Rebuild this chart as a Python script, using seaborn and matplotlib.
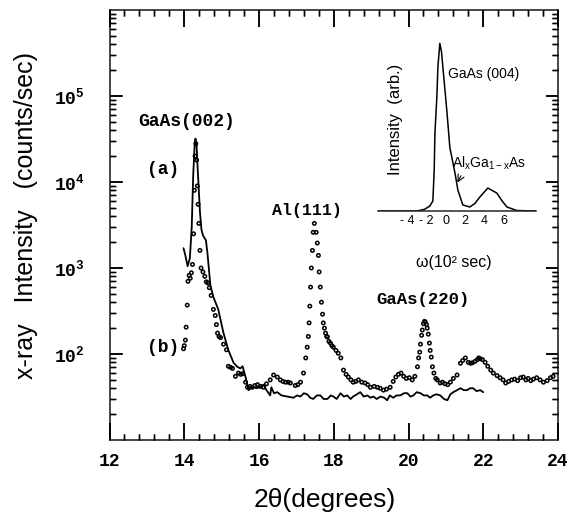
import numpy as np
import pandas as pd
import matplotlib
matplotlib.use("Agg")
import matplotlib.pyplot as plt
from matplotlib.ticker import MultipleLocator, LogLocator, NullFormatter, FixedLocator
import seaborn as sns

# ---------------- data ----------------
# curve (a): solid line
a_two_theta = [13.98, 14.03, 14.09, 14.15, 14.20, 14.24, 14.28, 14.30, 14.33, 14.36,
               14.39, 14.42, 14.46, 14.50, 14.55, 14.58, 14.62, 14.65, 14.70, 14.78,
               14.91, 15.05, 15.18, 15.32, 15.42, 15.50, 15.56, 15.64, 15.72, 15.78,
               15.85, 15.95, 16.05, 16.12, 16.20, 16.30, 16.33, 16.40, 16.49, 16.60,
               16.76, 16.92, 17.02,
               17.11, 17.20, 17.29, 17.37, 17.45, 17.55, 17.64, 17.73, 17.83, 17.92,
               17.99, 18.08, 18.18, 18.27, 18.36, 18.45, 18.52, 18.62, 18.71, 18.80,
               18.90, 18.98, 19.06, 19.15, 19.25, 19.35, 19.43, 19.50, 19.59, 19.68,
               19.78, 19.88, 19.97, 20.05, 20.13, 20.22, 20.32, 20.41, 20.50, 20.58,
               20.66, 20.75, 20.85, 20.95, 21.04, 21.12, 21.20, 21.30, 21.39, 21.48,
               21.57, 21.65, 21.73, 21.82, 21.92, 22.00]
a_intensity = [1700, 1400, 1050, 1300, 3000, 12000, 28000, 32000, 27000, 14000,
               8000, 4500, 2800, 2400, 2200, 2100, 1500, 1080, 620, 460,
               330, 175, 111, 79, 71, 68, 72, 54, 38, 40,
               41, 40, 42, 44, 38, 33, 41, 35, 36, 33,
               32, 31, 33,
               32, 35, 34, 31, 30, 33, 33, 30, 30, 33,
               32, 30, 35, 32, 33, 30, 32, 34, 36, 32,
               33, 31, 32, 30, 32, 31, 29, 33, 31, 33,
               33, 35, 35, 32, 33, 36, 35, 33, 33, 31,
               33, 34, 33, 30, 29, 34, 36, 38, 40, 38,
               38, 40, 40, 37, 38, 36]

# curve (b): open-circle points
b_two_theta = [13.98, 14.00, 14.03, 14.05, 14.08, 14.10, 14.13, 14.16, 14.19, 14.22,
               14.25, 14.27, 14.29, 14.31, 14.33, 14.35, 14.37, 14.39, 14.42, 14.45,
               14.50, 14.55, 14.59, 14.63, 14.67, 14.72, 14.78, 14.83, 14.86, 14.89,
               14.93, 14.97, 15.05, 15.13, 15.18, 15.24, 15.29, 15.37, 15.45, 15.51,
               15.56, 15.64, 15.69, 15.76, 15.82, 15.89, 15.96, 16.04, 16.12, 16.20,
               16.30, 16.39, 16.49, 16.57, 16.64, 16.71, 16.78, 16.84, 16.97, 17.04,
               17.11, 17.19, 17.25, 17.29, 17.32, 17.34, 17.36, 17.38, 17.40, 17.43,
               17.45, 17.48, 17.53, 17.56, 17.59, 17.61, 17.64, 17.67, 17.70, 17.72,
               17.75, 17.78, 17.81, 17.83, 17.87, 17.91, 17.95, 17.99, 18.06, 18.12,
               18.19, 18.26, 18.33, 18.39, 18.46, 18.52, 18.59, 18.66, 18.75, 18.84,
               18.91, 18.98, 19.08, 19.17, 19.24, 19.33, 19.41, 19.51, 19.59, 19.66,
               19.73, 19.80, 19.87, 19.94, 20.02, 20.10, 20.17, 20.24, 20.27, 20.30,
               20.32, 20.35, 20.37, 20.40, 20.43, 20.45, 20.48, 20.50, 20.53, 20.56,
               20.58, 20.61, 20.64, 20.68, 20.73, 20.77, 20.85, 20.91, 20.98, 21.05,
               21.12, 21.20, 21.30, 21.39, 21.45, 21.52, 21.60, 21.66, 21.71, 21.78,
               21.84, 21.88, 21.92, 21.98, 22.05, 22.12, 22.20, 22.27, 22.37, 22.45,
               22.53, 22.60, 22.68, 22.76, 22.84, 22.92, 23.00, 23.07, 23.14, 23.20,
               23.27, 23.34, 23.43, 23.52, 23.61, 23.71, 23.80, 23.87]
b_intensity = [115, 125, 145, 205, 370, 700, 820, 760, 880, 1100,
               2500, 8000, 20000, 28000, 18000, 9000, 5500, 3300, 1600, 1000,
               900, 800, 690, 670, 590, 480, 330, 280, 220, 175,
               160, 155, 130, 112, 72, 70, 68, 55, 60, 58,
               59, 47, 41, 42, 41, 43, 44, 42, 41, 45,
               50, 57, 54, 50, 48, 47, 47, 46, 43, 44,
               47, 60, 90, 120, 160, 230, 360, 600, 1000, 1600,
               2600, 3300, 2600, 1950, 1400, 900, 600, 400, 290, 230,
               200, 175, 160, 158, 140, 134, 125, 120, 110, 102,
               90, 65, 58, 54, 50, 47, 48, 50, 47, 46,
               44, 41, 42, 41, 40, 38, 39, 41, 48, 54,
               58, 60, 55, 52, 53, 50, 55, 71, 90, 105,
               130, 165, 190, 225, 240, 235, 220, 200, 170, 134,
               110, 92, 71, 60, 52, 50, 46, 47, 45, 44,
               47, 52, 57, 78, 84, 90, 80, 78, 79, 82,
               86, 90, 88, 86, 80, 72, 65, 60, 56, 53,
               50, 46, 48, 50, 51, 49, 53, 54, 50, 52,
               49, 51, 53, 50, 47, 49, 53, 55]

# inset: rocking curve
inset_omega = [-7.0, -3.0, -2.2, -1.65, -1.34, -1.2, -1.13, -0.93, -0.82, -0.62,
               -0.45, -0.31, 0.1, 0.41, 0.93, 1.24, 1.75, 2.47, 3.0, 3.5,
               4.33, 5.26, 5.8, 6.3, 7.3, 9.3]
inset_intensity = [0.0, 0.0, 0.01, 0.03, 0.06, 0.25, 0.46, 0.68, 0.86, 1.0,
                   0.95, 0.86, 0.60, 0.38, 0.23, 0.125, 0.036, 0.024, 0.045, 0.083,
                   0.137, 0.107, 0.06, 0.024, 0.003, 0.0]

x_ticks = [12, 14, 16, 18, 20, 22, 24]
y_ticks = [1e2, 1e3, 1e4, 1e5]
y_tick_labels = [r"$\mathrm{10^{2}}$", r"$\mathrm{10^{3}}$", r"$\mathrm{10^{4}}$", r"$\mathrm{10^{5}}$"]
inset_ticks = [-4, -2, 0, 2, 4, 6]
inset_tick_labels = ["- 4", "- 2", "0", "2", "4", "6"]

# ---------------- style ----------------
sns.set_theme(style="ticks")
plt.rcParams.update({
    "font.family": ["Liberation Sans", "DejaVu Sans"],
    "mathtext.fontset": "custom",
    "mathtext.rm": "Liberation Mono:bold",
    "mathtext.sf": "Liberation Sans",
    "axes.linewidth": 1.2,
    "axes.axisbelow": False,
    "xtick.direction": "in",
    "ytick.direction": "in",
    "xtick.major.size": 12,
})

W, H = 569, 513
AX_L, AX_B, AX_W, AX_H = 109.5, 440.0, 448.5, 430.0   # pixels
fig = plt.figure(figsize=(W / 100, H / 100), dpi=100)
fig.patch.set_facecolor("white")
ax = fig.add_axes([AX_L / W, 1 - AX_B / H, AX_W / W, AX_H / H])
ax.set_facecolor("white")

df_a = pd.DataFrame({"two_theta": a_two_theta, "intensity": a_intensity})
df_b = pd.DataFrame({"two_theta": b_two_theta, "intensity": b_intensity})

sns.lineplot(data=df_a, x="two_theta", y="intensity", ax=ax, color="black",
             lw=1.3, estimator=None, sort=False)
sns.scatterplot(data=df_b, x="two_theta", y="intensity", ax=ax, marker="o",
                s=6, facecolor="none", edgecolor="black", linewidth=1.1, zorder=3)

ax.set_yscale("log")
ax.set_xlim(12, 24)
ax.set_ylim(10, 1e6)
ax.xaxis.set_major_locator(FixedLocator(x_ticks))
ax.xaxis.set_minor_locator(MultipleLocator(0.4))
ax.set_xticklabels([str(t) for t in x_ticks], fontfamily="Liberation Mono",
                   fontweight="bold", fontsize=13)
ax.yaxis.set_major_locator(FixedLocator(y_ticks))
ax.set_yticklabels(y_tick_labels, fontsize=13)
ax.yaxis.set_minor_locator(LogLocator(base=10, subs=np.arange(2, 10), numticks=20))
ax.yaxis.set_minor_formatter(NullFormatter())

ax.tick_params(axis="both", which="both", direction="in", top=True, right=True,
               bottom=True, left=True, color="black", labelcolor="black")
ax.tick_params(axis="x", which="major", length=12, width=1.1, pad=9)
ax.tick_params(axis="x", which="minor", length=4, width=1.0)
ax.tick_params(axis="y", which="major", length=9, width=1.1, pad=18)
ax.tick_params(axis="y", which="minor", length=4, width=1.0)

ax.set_xlabel("2θ(degrees)", fontsize=19, color="black")
ax.set_ylabel("x-ray   Intensity   (counts/sec)", fontsize=18, color="black")
ax.xaxis.set_label_coords(0.480, -0.1395)
ax.xaxis.label.set_va("center")
ax.yaxis.set_label_coords(-0.186, 0.523)
ax.yaxis.label.set_va("center")

# tick marks also drawn as axis-anchored segments at the locator positions
px = 100 / 72.0  # pixels per point
x_major = [v for v in ax.xaxis.get_majorticklocs() if 12 <= v <= 24]
x_minor = [v for v in ax.xaxis.get_minorticklocs() if 12 < v < 24]
y_major = [v for v in ax.yaxis.get_majorticklocs() if 10 < v < 1e6]
y_minor = [v for v in ax.yaxis.get_minorticklocs() if 10 < v < 1e6]
xt = ax.get_xaxis_transform()
yt = ax.get_yaxis_transform()
xmaj_len = 12 * px / AX_H
xmin_len = 4 * px / AX_H
ymaj_len = 9 * px / AX_W
ymin_len = 4 * px / AX_W
tick_kw = dict(color="black", clip_on=False, zorder=2.6)
ax.vlines(x_major, 0, xmaj_len, transform=xt, linewidth=1.1, **tick_kw)
ax.vlines(x_major, 1 - xmaj_len, 1, transform=xt, linewidth=1.1, **tick_kw)
ax.vlines(x_minor, 0, xmin_len, transform=xt, linewidth=1.0, **tick_kw)
ax.vlines(x_minor, 1 - xmin_len, 1, transform=xt, linewidth=1.0, **tick_kw)
ax.hlines(y_major, 0, ymaj_len, transform=yt, linewidth=1.1, **tick_kw)
ax.hlines(y_major, 1 - ymaj_len, 1, transform=yt, linewidth=1.1, **tick_kw)
ax.hlines(y_minor, 0, ymin_len, transform=yt, linewidth=1.0, **tick_kw)
ax.hlines(y_minor, 1 - ymin_len, 1, transform=yt, linewidth=1.0, **tick_kw)
ax.set_xlim(12, 24)
ax.set_ylim(10, 1e6)

mono = dict(fontfamily="Liberation Mono", fontweight="bold", color="black",
            ha="center", va="center")
ax.text(14.06, 5.0e4, "GaAs(002)", fontsize=13, **mono)
ax.text(13.44, 1.38e4, "(a)", fontsize=13, **mono)
ax.text(13.44, 120, "(b)", fontsize=13, **mono)
ax.text(17.29, 4.7e3, "Al(111)", fontsize=12, **mono)
ax.text(20.40, 425, "GaAs(220)", fontsize=12.5, **mono)

# ---------------- inset ----------------
ax_in = fig.add_axes([378 / W, 1 - 211 / H, 158 / W, 176 / H])
ax_in.patch.set_alpha(0)
df_in = pd.DataFrame({"omega": inset_omega, "intensity": inset_intensity})
sns.lineplot(data=df_in, x="omega", y="intensity", ax=ax_in, color="black",
             lw=1.1, estimator=None, sort=False)
ax_in.set_xlim(-7, 9.3)
ax_in.set_ylim(0, 1.05)
for side in ["top", "right", "left"]:
    ax_in.spines[side].set_visible(False)
ax_in.spines["bottom"].set_linewidth(1.1)
ax_in.set_yticks([])
ax_in.set_xticks(inset_ticks)
ax_in.set_xticklabels(inset_tick_labels, fontsize=9)
ax_in.minorticks_off()
ax_in.tick_params(axis="x", which="both", length=0, pad=3, labelcolor="black", top=False)
ax_in.tick_params(axis="y", which="both", left=False, right=False)
ax_in.set_xlabel("")
ax_in.set_ylabel("")
ax_in.text(0.11, 0.52, "Intensity  (arb.)", transform=ax_in.transAxes, rotation=90,
           ha="center", va="center", fontsize=12, color="black")
ax_in.text(0.48, -0.29, "ω(10² sec)", transform=ax_in.transAxes, ha="center",
           va="center", fontsize=11.5, color="black")
ax_in.text(0.2, 0.82, "GaAs (004)", ha="left", va="center", fontsize=10, color="black")
ax_in.text(0.62, 0.286, r"Al$_\mathsf{x}$Ga$_\mathsf{1-x}$As", ha="left", va="center",
           fontsize=10, color="black")
ax_in.annotate("", xy=(1.05, 0.155), xytext=(1.7, 0.225),
               arrowprops=dict(arrowstyle="->", color="black", lw=0.8))

fig.savefig("out.png", dpi=100, facecolor="white")
